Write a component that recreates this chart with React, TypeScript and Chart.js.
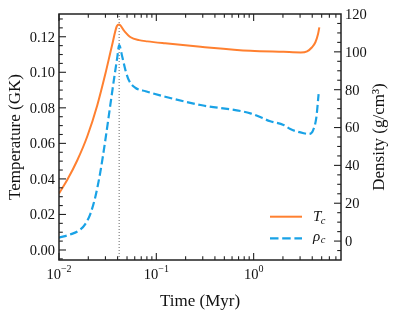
import { useEffect, useRef } from 'react';
import { Chart, registerables } from 'chart.js';

Chart.register(...registerables);

// ---- data ----
const tempTime = [0.01, 0.01217, 0.01542, 0.01954, 0.02474, 0.02991, 0.03505, 0.03926, 0.04147, 0.04656, 0.05447, 0.0664, 0.0808, 0.1233, 0.2847, 0.9265, 2.03, 3.05, 3.54, 3.98, 4.31, 4.59, 4.73];
const tempValues = [0.0318, 0.0395, 0.0505, 0.0640, 0.0815, 0.0990, 0.1151, 0.1259, 0.1269, 0.1234, 0.1197, 0.1181, 0.1174, 0.1163, 0.1144, 0.1121, 0.1115, 0.1112, 0.1118, 0.1141, 0.1169, 0.1215, 0.1253];

const densTime = [0.01, 0.01307, 0.01655, 0.01862, 0.02097, 0.02361, 0.02659, 0.02994, 0.03367, 0.03702, 0.03975, 0.0415, 0.0448, 0.0483, 0.0524, 0.0613, 0.0776, 0.1233, 0.2847, 0.9265, 1.484, 2.03, 2.38, 3.27, 3.67, 4.07, 4.41, 4.65];
const densValues = [1.8, 3.5, 6.1, 9.0, 14.3, 23.3, 36.5, 53.4, 71.9, 86.7, 97.3, 103.5, 97.1, 90.1, 84.8, 80.9, 79.2, 76.3, 71.9, 67.5, 63.3, 61.4, 59.2, 57.0, 56.6, 58.4, 65.4, 77.7];

const peakTime = 0.0415;

const xMin = 0.01;
const xMax = 7.9;
const tempMin = -0.00563;
const tempMax = 0.1328;
const densMin = -10;
const densMax = 120;

const xTickValues = [0.01, 0.1, 1];
const xTickExponents = ['\u22122', '\u22121', '0'];
const tempTickValues = [0, 0.02, 0.04, 0.06, 0.08, 0.1, 0.12];
const tempTickLabels = ['0.00', '0.02', '0.04', '0.06', '0.08', '0.10', '0.12'];
const densTickValues = [0, 20, 40, 60, 80, 100, 120];
const densTickLabels = ['0', '20', '40', '60', '80', '100', '120'];

const xTitle = 'Time (Myr)';
const tempTitle = 'Temperature (GK)';
const densTitle = 'Density (g/cm\u00b3)';

const ORANGE = '#ff8030';
const BLUE = '#19a2e6';
const SERIF = "'Liberation Serif', 'Times New Roman', serif";

const decor = {
  id: 'decor',
  afterDatasetsDraw(chart: any) {
    const { ctx, chartArea: a } = chart;
    const xs = chart.scales.x;
    const yl = chart.scales.y;
    const yr = chart.scales.y1;
    ctx.save();
    ctx.strokeStyle = '#222';
    ctx.fillStyle = '#111';

    // ticks (inward)
    ctx.lineWidth = 1.1;
    const vt = (px: number, len: number) => {
      ctx.beginPath();
      ctx.moveTo(px, a.bottom); ctx.lineTo(px, a.bottom - len);
      ctx.moveTo(px, a.top); ctx.lineTo(px, a.top + len);
      ctx.stroke();
    };
    for (const d of xTickValues) {
      vt(xs.getPixelForValue(d), 7);
      for (let k = 2; k <= 9; k++) {
        const v = k * d;
        if (v < xMax) vt(xs.getPixelForValue(v), 3.8);
      }
    }
    const lt = (py: number, len: number) => {
      ctx.beginPath(); ctx.moveTo(a.left, py); ctx.lineTo(a.left + len, py); ctx.stroke();
    };
    const rt = (py: number, len: number) => {
      ctx.beginPath(); ctx.moveTo(a.right, py); ctx.lineTo(a.right - len, py); ctx.stroke();
    };
    for (let i = -1; i <= 26; i++) {
      const v = i * 0.005;
      if (v <= tempMin || v >= tempMax) continue;
      lt(yl.getPixelForValue(v), i % 4 === 0 ? 7 : 3.8);
    }
    for (let i = -1; i <= 23; i++) {
      const v = i * 5;
      if (v <= densMin || v >= densMax) continue;
      rt(yr.getPixelForValue(v), i % 4 === 0 ? 7 : 3.8);
    }
    // frame
    ctx.lineWidth = 1.5;
    ctx.strokeRect(a.left, a.top, a.right - a.left, a.bottom - a.top);

    // tick labels
    ctx.font = `14.5px ${SERIF}`;
    ctx.textBaseline = 'middle';
    ctx.textAlign = 'right';
    tempTickValues.forEach((v, i) => ctx.fillText(tempTickLabels[i], a.left - 4, yl.getPixelForValue(v) + 1));
    ctx.textAlign = 'left';
    densTickValues.forEach((v, i) => ctx.fillText(densTickLabels[i], a.right + 4, yr.getPixelForValue(v) + 1));

    ctx.textBaseline = 'alphabetic';
    ctx.textAlign = 'left';
    xTickValues.forEach((v, i) => {
      const px = xs.getPixelForValue(v);
      ctx.font = `14.5px ${SERIF}`;
      const w1 = ctx.measureText('10').width;
      ctx.font = `10px ${SERIF}`;
      const w2 = ctx.measureText(xTickExponents[i]).width;
      const x0 = px - (w1 + w2) / 2;
      ctx.font = `14.5px ${SERIF}`;
      ctx.fillText('10', x0, a.bottom + 18.5);
      ctx.font = `10px ${SERIF}`;
      ctx.fillText(xTickExponents[i], x0 + w1, a.bottom + 11.5);
    });

    // axis titles
    ctx.font = `17px ${SERIF}`;
    ctx.textAlign = 'center';
    ctx.fillText(xTitle, (a.left + a.right) / 2, 306);
    const cy = (a.top + a.bottom) / 2;
    ctx.save();
    ctx.translate(19.5, cy);
    ctx.rotate(-Math.PI / 2);
    ctx.fillText(tempTitle, 0, 0);
    ctx.restore();
    ctx.save();
    ctx.translate(383.5, cy);
    ctx.rotate(-Math.PI / 2);
    ctx.fillText(densTitle, 0, 0);
    ctx.restore();

    // legend
    const lx0 = 270, lx1 = 302;
    ctx.lineWidth = 2;
    ctx.strokeStyle = ORANGE;
    ctx.beginPath(); ctx.moveTo(lx0, 216.7); ctx.lineTo(lx1, 216.7); ctx.stroke();
    ctx.strokeStyle = BLUE;
    ctx.lineWidth = 2.2;
    ctx.setLineDash([8.5, 3.7]);
    ctx.beginPath(); ctx.moveTo(lx0, 238.3); ctx.lineTo(lx1, 238.3); ctx.stroke();
    ctx.setLineDash([]);
    ctx.textAlign = 'left';
    ctx.fillStyle = '#111';
    ctx.font = `italic 15px ${SERIF}`;
    ctx.fillText('T', 313, 221);
    let w = ctx.measureText('T').width;
    ctx.font = `italic 10.5px ${SERIF}`;
    ctx.fillText('c', 313 + w - 0.5, 224);
    ctx.font = `italic 15px ${SERIF}`;
    ctx.fillText('\u03c1', 313, 240.5);
    w = ctx.measureText('\u03c1').width;
    ctx.font = `italic 10.5px ${SERIF}`;
    ctx.fillText('c', 313 + w + 0.5, 243);
    ctx.restore();
  },
};

export default function App() {
  const ref = useRef<HTMLCanvasElement>(null);
  useEffect(() => {
    const chart = new Chart(ref.current as HTMLCanvasElement, {
      type: 'line',
      data: {
        datasets: [
          {
            label: 'Tc',
            data: tempTime.map((t, i) => ({ x: t, y: tempValues[i] })),
            yAxisID: 'y',
            borderColor: ORANGE,
            borderWidth: 2,
            pointRadius: 0,
            cubicInterpolationMode: 'monotone',
            fill: false,
          },
          {
            label: 'rho_c',
            data: densTime.map((t, i) => ({ x: t, y: densValues[i] })),
            yAxisID: 'y1',
            borderColor: BLUE,
            borderWidth: 2.2,
            borderDash: [8, 3.6],
            pointRadius: 0,
            cubicInterpolationMode: 'monotone',
            fill: false,
          },
          {
            label: 'peak',
            data: [
              { x: peakTime, y: tempMin },
              { x: peakTime, y: tempMax },
            ],
            yAxisID: 'y',
            borderColor: '#666',
            borderWidth: 1,
            borderDash: [1, 2],
            pointRadius: 0,
            fill: false,
          },
        ],
      } as any,
      options: {
        responsive: false,
        animation: false,
        devicePixelRatio: 1,
        layout: { padding: { left: 59, right: 55, top: 14, bottom: 51 } },
        plugins: { legend: { display: false }, tooltip: { enabled: false } },
        scales: {
          x: { type: 'logarithmic', min: xMin, max: xMax, display: false },
          y: { type: 'linear', position: 'left', min: tempMin, max: tempMax, display: false },
          y1: { type: 'linear', position: 'right', min: densMin, max: densMax, display: false },
        },
      } as any,
      plugins: [decor],
    });
    return () => chart.destroy();
  }, []);
  return (
    <div style={{ position: 'fixed', left: 0, top: 0, width: 396, height: 311, background: '#fff' }}>
      <canvas ref={ref} width={396} height={311} style={{ display: 'block' }} />
    </div>
  );
}
